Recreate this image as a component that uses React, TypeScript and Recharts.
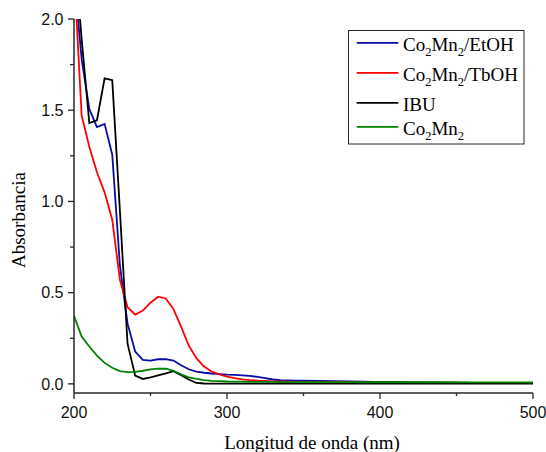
import React from "react";
import { LineChart, Line, XAxis, YAxis, Legend } from "recharts";

// wavelength grid (nm)
const wavelength = [
  200, 205, 210, 215, 220, 225, 230, 235, 240, 245, 250, 255, 260, 265, 270, 275,
  280, 285, 290, 295, 300, 305, 310, 315, 320, 325, 330, 335, 340, 345, 350,
  360, 370, 380, 390, 400, 410, 420, 430, 440, 450, 460, 470, 480, 490, 500,
];

const etoh = [
  2.24, 1.78, 1.507, 1.408, 1.425, 1.256, 0.65, 0.33, 0.177, 0.132, 0.128, 0.135, 0.136, 0.128, 0.102, 0.08,
  0.067, 0.061, 0.057, 0.054, 0.051, 0.049, 0.047, 0.044, 0.038, 0.031, 0.024, 0.02, 0.019, 0.018, 0.018,
  0.017, 0.015, 0.014, 0.012, 0.01, 0.009, 0.008, 0.008, 0.007, 0.007, 0.006, 0.006, 0.006, 0.005, 0.005,
];

const tboh = [
  2.27, 1.47, 1.3, 1.16, 1.05, 0.9, 0.57, 0.42, 0.38, 0.402, 0.445, 0.478, 0.468, 0.41, 0.314, 0.21,
  0.141, 0.095, 0.068, 0.052, 0.04, 0.031, 0.025, 0.021, 0.018, 0.016, 0.014, 0.013, 0.012, 0.011, 0.011,
  0.01, 0.009, 0.009, 0.008, 0.008, 0.008, 0.007, 0.007, 0.007, 0.007, 0.006, 0.006, 0.006, 0.006, 0.006,
];

const ibu = [
  2.4, 1.89, 1.43, 1.445, 1.675, 1.665, 0.95, 0.22, 0.045, 0.027, 0.036, 0.047, 0.058, 0.07, 0.047, 0.024,
  0.005, 0.002, 0.001, 0.001, 0.001, 0.001, 0.001, 0.001, 0.001, 0.001, 0.001, 0.001, 0.001, 0.001, 0.001,
  0.001, 0.001, 0.001, 0.001, 0.001, 0.001, 0.001, 0.001, 0.001, 0.001, 0.001, 0.001, 0.001, 0.001, 0.001,
];

const co2mn2 = [
  0.373, 0.26, 0.205, 0.155, 0.115, 0.088, 0.07, 0.064, 0.066, 0.072, 0.079, 0.084, 0.083, 0.072, 0.052, 0.036,
  0.027, 0.021, 0.017, 0.015, 0.013, 0.012, 0.012, 0.011, 0.011, 0.011, 0.011, 0.01, 0.01, 0.01, 0.01,
  0.01, 0.01, 0.01, 0.009, 0.009, 0.009, 0.009, 0.009, 0.009, 0.008, 0.008, 0.008, 0.008, 0.008, 0.008,
];

const xTicks = [200, 250, 300, 350, 400, 450, 500];
const xMajor = [200, 300, 400, 500];
const yTicks = [0, 0.25, 0.5, 0.75, 1, 1.25, 1.5, 1.75, 2];
const yMajor = [0, 0.5, 1, 1.5, 2];

const series = [
  { key: "etoh", name: "Co2Mn2/EtOH", color: "#0a0aa6" },
  { key: "tboh", name: "Co2Mn2/TbOH", color: "#ff0000" },
  { key: "ibu", name: "IBU", color: "#000000" },
  { key: "co2mn2", name: "Co2Mn2", color: "#008000" },
];

const data = wavelength.map((x, i) => ({
  x,
  etoh: etoh[i],
  tboh: tboh[i],
  ibu: ibu[i],
  co2mn2: co2mn2[i],
}));

const AXIS = "#262626";
const SANS = "Liberation Sans, Arial, sans-serif";
const SERIF = "Liberation Serif, DejaVu Serif, Times New Roman, serif";

function BottomTick(props: any) {
  const { x, y, payload } = props;
  const major = xMajor.includes(payload.value);
  return (
    <g>
      <line x1={x} x2={x} y1={y} y2={y + (major ? 6 : 3)} stroke={AXIS} strokeWidth={1.3} />
      {major && (
        <text x={x} y={y + 25} textAnchor="middle" style={{ fontFamily: SANS, fontSize: 16 }} fill="#111">
          {payload.value}
        </text>
      )}
    </g>
  );
}

function LeftTick(props: any) {
  const { x, y, payload } = props;
  const major = yMajor.includes(payload.value);
  return (
    <g>
      <line x1={x} x2={x - (major ? 6 : 4)} y1={y} y2={y} stroke={AXIS} strokeWidth={1.3} />
      {major && (
        <text x={x - 10.5} y={y + 5.7} textAnchor="end" style={{ fontFamily: SANS, fontSize: 16 }} fill="#111">
          {payload.value.toFixed(1)}
        </text>
      )}
    </g>
  );
}

function TopTick(props: any) {
  const { x, y } = props;
  return <line x1={x} x2={x} y1={y} y2={y + 3} stroke={AXIS} strokeWidth={1} />;
}

function RightTick(props: any) {
  const { x, y } = props;
  return <line x1={x} x2={x - 3} y1={y} y2={y} stroke={AXIS} strokeWidth={1} />;
}

function nameParts(name: string) {
  // digits are drawn as subscripts
  const parts = name.split(/(\d)/).filter((p) => p !== "");
  let down = false;
  return parts.map((p, i) => {
    const isSub = /\d/.test(p);
    let dy = 0;
    if (isSub && !down) {
      dy = 5;
      down = true;
    } else if (!isSub && down) {
      dy = -5;
      down = false;
    }
    return (
      <tspan key={i} dy={dy} style={{ fontSize: isSub ? 12.5 : 19 }}>
        {p}
      </tspan>
    );
  });
}

const rowY = [12.8, 42.8, 72.8, 96.8];

function LegendBox() {
  return (
    <svg width={177} height={115} style={{ display: "block" }}>
      <rect x={0.5} y={0.5} width={175.5} height={113.5} fill="#fff" stroke={AXIS} strokeWidth={1} />
      {series.map((s, i) => (
        <g key={s.key}>
          <line x1={8.7} x2={50.3} y1={rowY[i]} y2={rowY[i]} stroke={s.color} strokeWidth={1.8} />
          <text x={55} y={rowY[i] + 8.4} style={{ fontFamily: SERIF, fontSize: 19 }} fill="#000">
            {nameParts(s.name)}
          </text>
        </g>
      ))}
    </svg>
  );
}

export default function App() {
  return (
    <div style={{ position: "absolute", left: 0, top: 0, background: "#fff" }}>
      <LineChart width={546} height={452} data={data} margin={{ top: 19, right: 13, bottom: 29, left: 0 }}>
        <XAxis
          dataKey="x"
          type="number"
          domain={[200, 500]}
          ticks={xTicks}
          allowDataOverflow
          height={30}
          tickSize={0}
          tickMargin={0}
          tickLine={false}
          axisLine={{ stroke: AXIS, strokeWidth: 1.5 }}
          tick={<BottomTick />}
          interval={0}
          label={{
            content: (p: any) => {
              const vb = p.viewBox;
              return (
                <text
                  x={vb.x + vb.width / 2 + 8.5}
                  y={449}
                  textAnchor="middle"
                  style={{ fontFamily: SERIF, fontSize: 19 }}
                  fill="#000"
                >
                  Longitud de onda (nm)
                </text>
              );
            },
          }}
        />
        <XAxis
          xAxisId="top"
          orientation="top"
          dataKey="x"
          type="number"
          domain={[200, 500]}
          ticks={xTicks}
          allowDataOverflow
          height={0}
          tickSize={0}
          tickMargin={0}
          tickLine={false}
          axisLine={{ stroke: AXIS, strokeWidth: 1.5 }}
          tick={<TopTick />}
          interval={0}
        />
        <YAxis
          type="number"
          domain={[-0.05, 2]}
          ticks={yTicks}
          allowDataOverflow
          width={74}
          tickSize={0}
          tickMargin={0}
          tickLine={false}
          axisLine={{ stroke: AXIS, strokeWidth: 1.5 }}
          tick={<LeftTick />}
          interval={0}
          label={{
            content: (p: any) => {
              const vb = p.viewBox;
              return (
                <text
                  transform={`translate(${vb.x + 25}, ${vb.y + vb.height / 2 + 14}) rotate(-90)`}
                  textAnchor="middle"
                  style={{ fontFamily: SERIF, fontSize: 19 }}
                  fill="#000"
                >
                  Absorbancia
                </text>
              );
            },
          }}
        />
        <YAxis
          yAxisId="right"
          orientation="right"
          type="number"
          domain={[-0.05, 2]}
          ticks={yTicks}
          allowDataOverflow
          width={0}
          tickSize={0}
          tickMargin={0}
          tickLine={false}
          axisLine={{ stroke: AXIS, strokeWidth: 1.5 }}
          tick={<RightTick />}
          interval={0}
        />
        <Legend
          layout="vertical"
          align="center"
          verticalAlign="middle"
          wrapperStyle={{ left: 348, top: 30, width: 177, height: 115 }}
          content={() => <LegendBox />}
        />
        {series.map((s) => (
          <Line
            key={s.key}
            dataKey={s.key}
            name={s.name}
            type="linear"
            stroke={s.color}
            strokeWidth={1.8}
            dot={false}
            activeDot={false}
            isAnimationActive={false}
          />
        ))}
      </LineChart>
    </div>
  );
}
